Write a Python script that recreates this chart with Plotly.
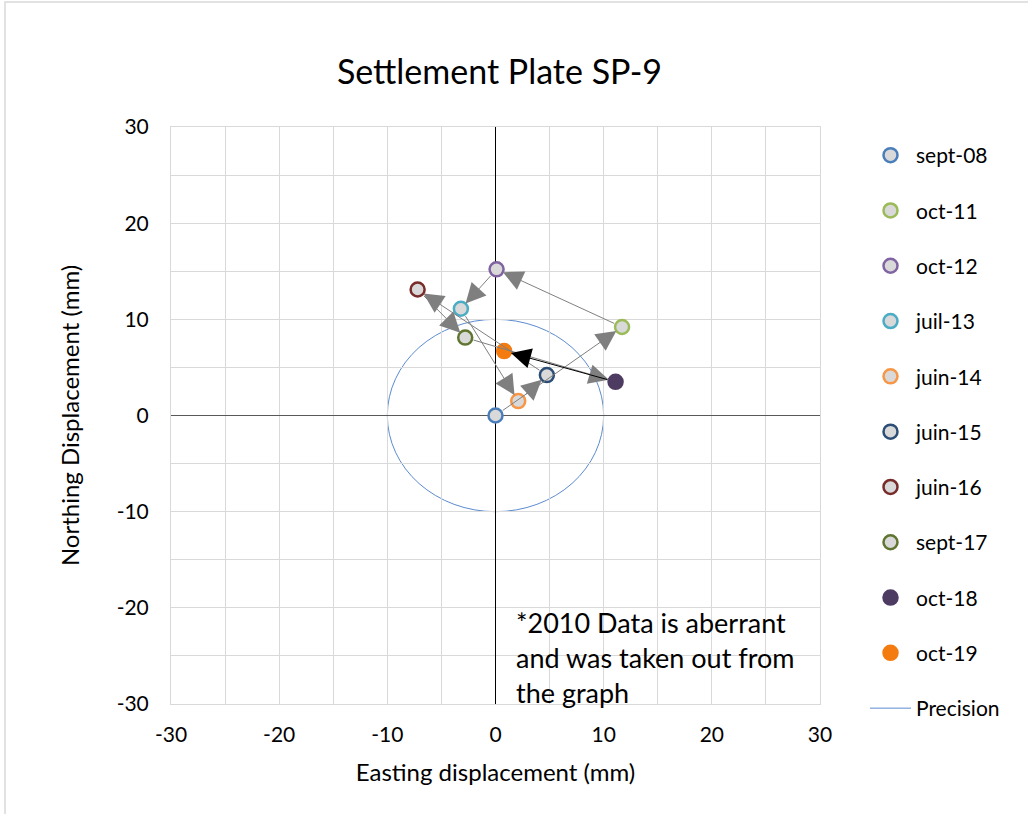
import plotly.graph_objects as go

# Survey readings of settlement plate SP-9 (displacement from the 2008 baseline, mm)
dates = ["sept-08", "oct-11", "oct-12", "juil-13", "juin-14",
         "juin-15", "juin-16", "sept-17", "oct-18", "oct-19"]
easting = [0.0, 11.7, 0.1, -3.2, 2.1, 4.75, -7.2, -2.8, 11.1, 0.8]
northing = [0.0, 9.2, 15.2, 11.1, 1.5, 4.2, 13.1, 8.1, 3.5, 6.7]

outline_colors = ["#4a7ebb", "#9bbb59", "#8064a2", "#4bacc6", "#f79646",
                  "#2c4d75", "#772c2a", "#5f7530", "#4d3b62", "#f47b0f"]
fill_colors = ["#d9d9d9"] * 8 + ["#4d3b62", "#f47b0f"]

precision_radius = 10  # mm
axis_ticks = [-30, -20, -10, 0, 10, 20, 30]
axis_tick_labels = ["-30", "-20", "-10", "0", "10", "20", "30"]

FONT = "Lato, 'Open Sans', sans-serif"
GRID = "#d9d9d9"
PRECISION_COLOR = "#5b8bd0"

# plot-area geometry in pixels
W, H = 1028, 814
L, R, T, B = 171, 820, 127, 704


def px_x(px):
    return (px - L) / (R - L)


def px_y(py):
    return (B - py) / (B - T)


fig = go.Figure()

for i, d in enumerate(dates):
    fig.add_trace(go.Scatter(
        x=[easting[i]], y=[northing[i]], mode="markers", name=d,
        legendgroup=d, legendrank=i + 1,
        marker=dict(size=14, color=fill_colors[i],
                    line=dict(color=outline_colors[i], width=2.5)),
    ))

# legend entry for the precision circle (drawn as a shape below)
fig.add_trace(go.Scatter(
    x=[None], y=[None], mode="lines", name="Precision",
    legendgroup="Precision", legendrank=100,
    line=dict(color=PRECISION_COLOR, width=1),
))

# precision circle around the baseline position
fig.add_shape(
    type="circle", xref="x", yref="y",
    x0=-precision_radius, x1=precision_radius,
    y0=-precision_radius, y1=precision_radius,
    line=dict(color=PRECISION_COLOR, width=1), layer="below",
)

# arrows joining successive readings
annotations = []
for i in range(1, len(dates)):
    last = i == len(dates) - 1
    annotations.append(dict(
        x=easting[i], y=northing[i], ax=easting[i - 1], ay=northing[i - 1],
        xref="x", yref="y", axref="x", ayref="y", text="",
        showarrow=True, arrowhead=2, arrowsize=4, arrowwidth=1,
        arrowcolor="#000000" if last else "#7f7f7f",
        standoff=7, startstandoff=7,
    ))

annotations.append(dict(
    x=px_x(514), y=px_y(604), xref="paper", yref="paper",
    xanchor="left", yanchor="top", align="left", showarrow=False,
    text="*2010 Data is aberrant<br>and was taken out from<br>the graph",
    font=dict(family=FONT, size=27, color="#000000"),
))

# outer chart frame
fig.add_shape(type="rect", xref="paper", yref="paper",
              x0=px_x(5), x1=px_x(1040), y0=px_y(830), y1=px_y(2),
              line=dict(color="#d9d9d9", width=1.5), layer="below")

axis_common = dict(
    range=[-30, 30], tickvals=axis_ticks, ticktext=axis_tick_labels,
    showgrid=True, gridcolor=GRID, gridwidth=1,
    minor=dict(dtick=5, showgrid=True, gridcolor=GRID, gridwidth=1),
    showline=True, linecolor=GRID, linewidth=1, mirror=True,
    zeroline=True, zerolinewidth=1.3, ticks="",
    tickfont=dict(family=FONT, size=21, color="#000000"),
    fixedrange=True,
)

fig.update_layout(
    width=W, height=H,
    margin=dict(l=L, r=W - R, t=T, b=H - B, autoexpand=False),
    paper_bgcolor="white", plot_bgcolor="white",
    title=dict(text="Settlement Plate SP-9", x=px_x(499.5), xref="paper",
               xanchor="center", y=1 - 72 / H, yref="container", yanchor="middle",
               font=dict(family=FONT, size=34, color="#000000")),
    xaxis=dict(**axis_common, zerolinecolor="#000000", ticklabelstandoff=12,
               title=dict(text="Easting displacement (mm)", standoff=18,
                          font=dict(family=FONT, size=24, color="#000000"))),
    yaxis=dict(**axis_common, zerolinecolor="#595959", ticklabelstandoff=17,
               title=dict(text="Northing Displacement (mm)", standoff=30,
                          font=dict(family=FONT, size=24, color="#000000"))),
    legend=dict(x=px_x(865), y=px_y(135), xanchor="left", yanchor="top",
                itemwidth=41, maxheight=720,
                font=dict(family=FONT, size=21, color="#000000"),
                tracegroupgap=25, bgcolor="rgba(0,0,0,0)"),
    annotations=annotations,
    showlegend=True,
)

fig.write_html("out.html")
